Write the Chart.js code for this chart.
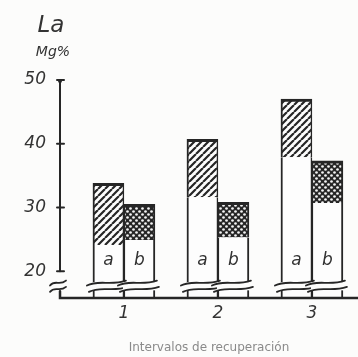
<!DOCTYPE html>
<html>
<head>
<meta charset="utf-8">
<script src="https://cdn.jsdelivr.net/npm/chart.js@4.4.1/dist/chart.umd.min.js"></script>
<style>
  html, body { margin: 0; padding: 0; background: #fcfcfb; }
  #wrap { width: 358px; height: 357px; }
</style>
</head>
<body>
<div id="wrap"><canvas id="c" width="358" height="357"></canvas></div>
<script>
// ---- data ----
const intervals = [1, 2, 3];
const yTicks = [20, 30, 40, 50];
const aHatchStart = [24.1, 31.6, 37.9];
const aTop        = [33.8, 40.7, 47.0];
const bCrossStart = [24.9, 25.3, 30.7];
const bTop        = [30.5, 30.8, 37.3];
const barLabels = ['a', 'b'];
const yAxisTitle = 'La';
const yAxisUnit = 'Mg%';
const xAxisTitle = 'Intervalos de recuperación';

// ---- styling ----
const INK = '#262626';
const Y_MIN = 15.8, Y_MAX = 50;
const BREAK_HI = 18.3, BREAK_LO = 17.0;

function hatchPattern() {
  const s = 7;
  const c = document.createElement('canvas');
  c.width = s; c.height = s;
  const g = c.getContext('2d');
  g.fillStyle = '#fdfdfd'; g.fillRect(0, 0, s, s);
  g.strokeStyle = INK; g.lineWidth = 2.2;
  g.beginPath();
  for (let k = -s; k <= 2 * s; k += s) { g.moveTo(k, s); g.lineTo(k + s, 0); }
  g.stroke();
  return g.createPattern(c, 'repeat');
}
function crossPattern() {
  const s = 6;
  const c = document.createElement('canvas');
  c.width = s; c.height = s;
  const g = c.getContext('2d');
  g.fillStyle = INK; g.fillRect(0, 0, s, s);
  g.fillStyle = '#f4f4f4';
  [[1.5, 1.5], [4.5, 4.5]].forEach(([x, y]) => { g.beginPath(); g.arc(x, y, 1.35, 0, Math.PI * 2); g.fill(); });
  return g.createPattern(c, 'repeat');
}

const pts = (lo, hi) => intervals.map((x, i) => ({ x, y: [Array.isArray(lo) ? lo[i] : lo, hi[i]] }));

const datasets = [
  { label: 'a-base', stack: 'a', data: pts(Y_MIN, aHatchStart), backgroundColor: '#fdfdfd', borderColor: INK,
    borderWidth: { left: 2, right: 1.5, top: 0, bottom: 0 }, borderSkipped: false },
  { label: 'a', stack: 'a', data: pts(aHatchStart, aTop), backgroundColor: hatchPattern(), borderColor: INK,
    borderWidth: { left: 2, right: 1.5, top: 3, bottom: 0 }, borderSkipped: false },
  { label: 'b-base', stack: 'b', data: pts(Y_MIN, bCrossStart), backgroundColor: '#fdfdfd', borderColor: INK,
    borderWidth: { left: 1.5, right: 2, top: 0, bottom: 0 }, borderSkipped: false },
  { label: 'b', stack: 'b', data: pts(bCrossStart, bTop), backgroundColor: crossPattern(), borderColor: INK,
    borderWidth: { left: 1.5, right: 2, top: 3, bottom: 0 }, borderSkipped: false }
];

function wavy(ctx, x0, x1, yMid, amp) {
  ctx.beginPath();
  const w = x1 - x0;
  ctx.moveTo(x0, yMid + amp);
  ctx.bezierCurveTo(x0 + w * 0.3, yMid - amp * 1.5, x0 + w * 0.6, yMid + amp * 1.2, x1, yMid - amp);
  ctx.stroke();
}

const decor = {
  id: 'decor',
  afterDatasetsDraw(chart) {
    const ctx = chart.ctx;
    const y = chart.scales.y;
    const ca = chart.chartArea;
    const ax = ca.left;
    ctx.save();
    ctx.strokeStyle = INK; ctx.fillStyle = INK; ctx.lineCap = 'round';

    const yb1 = y.getPixelForValue(BREAK_HI), yb2 = y.getPixelForValue(BREAK_LO);
    [0, 2].forEach((di, k) => {
      const meta = chart.getDatasetMeta(di);
      meta.data.forEach(bar => {
        const half = bar.width / 2;
        ctx.font = 'italic 17px "DejaVu Sans", sans-serif';
        ctx.textAlign = 'center'; ctx.textBaseline = 'alphabetic';
        ctx.fillStyle = '#333';
        ctx.fillText(barLabels[k], bar.x, y.getPixelForValue(20.9));
        ctx.fillStyle = '#fcfcfb';
        ctx.fillRect(bar.x - half - 1, yb1, bar.width + 2, yb2 - yb1);
        ctx.lineWidth = 1.8;
        wavy(ctx, bar.x - half - 6, bar.x + half + 2, yb1 + 1, 2.5);
        wavy(ctx, bar.x - half - 4, bar.x + half + 4, yb2 - 1, 2.5);
        ctx.fillStyle = INK;
      });
    });

    // y axis line 20..50
    ctx.lineWidth = 2;
    ctx.beginPath();
    ctx.moveTo(ax, y.getPixelForValue(50));
    ctx.lineTo(ax, y.getPixelForValue(20));
    ctx.stroke();
    yTicks.forEach(v => {
      const py = y.getPixelForValue(v);
      ctx.beginPath(); ctx.moveTo(ax - 3, py); ctx.lineTo(ax + 4, py); ctx.stroke();
    });
    ctx.beginPath(); ctx.arc(ax, y.getPixelForValue(50) + 1, 2, 0, Math.PI * 2); ctx.fill();
    ctx.lineWidth = 1.8;
    wavy(ctx, ax - 10, ax + 6, yb1 + 1, 2.5);
    wavy(ctx, ax - 10, ax + 6, yb2 - 1, 2.5);

    // baseline
    const by = y.getPixelForValue(Y_MIN);
    ctx.lineWidth = 2.5;
    ctx.beginPath();
    ctx.moveTo(ax, yb2 + 1);
    ctx.lineTo(ax, by);
    ctx.lineTo(ca.right, by);
    ctx.stroke();

    // y title
    ctx.fillStyle = '#333';
    ctx.textAlign = 'center';
    ctx.font = 'italic 23px "DejaVu Sans", sans-serif';
    ctx.fillText(yAxisTitle, ax - 9, 32);
    ctx.font = 'italic 14px "DejaVu Sans", sans-serif';
    ctx.fillText(yAxisUnit, ax - 7, 56);
    ctx.restore();
  }
};

new Chart(document.getElementById('c'), {
  type: 'bar',
  data: { datasets },
  options: {
    responsive: false,
    animation: false,
    layout: { padding: { top: 80, right: 0, left: 0, bottom: 0 } },
    datasets: { bar: { barThickness: 31, grouped: true } },
    plugins: { legend: { display: false }, tooltip: { enabled: false } },
    scales: {
      x: {
        type: 'linear', min: 0.32, max: 3.49, offset: false,
        afterBuildTicks: s => { s.ticks = intervals.map(v => ({ value: v })); },
        afterFit: s => { s.height = 59; },
        grid: { display: false, drawTicks: false },
        border: { display: false },
        ticks: { color: '#333', padding: 5, font: { family: 'DejaVu Sans', size: 17, style: 'italic' } },
        title: { display: true, text: xAxisTitle, color: '#8a8a8a', padding: { top: 20, bottom: 2 },
                 font: { family: 'DejaVu Sans', size: 12 } }
      },
      y: {
        stacked: false,
        min: Y_MIN, max: Y_MAX,
        afterBuildTicks: s => { s.ticks = yTicks.map(v => ({ value: v })); },
        afterFit: s => { s.width = 60; },
        grid: { display: false, drawTicks: false },
        border: { display: false },
        ticks: { color: '#333', padding: 14, font: { family: 'DejaVu Sans', size: 17, style: 'italic' } }
      }
    }
  },
  plugins: [decor]
});
</script>
</body>
</html>
